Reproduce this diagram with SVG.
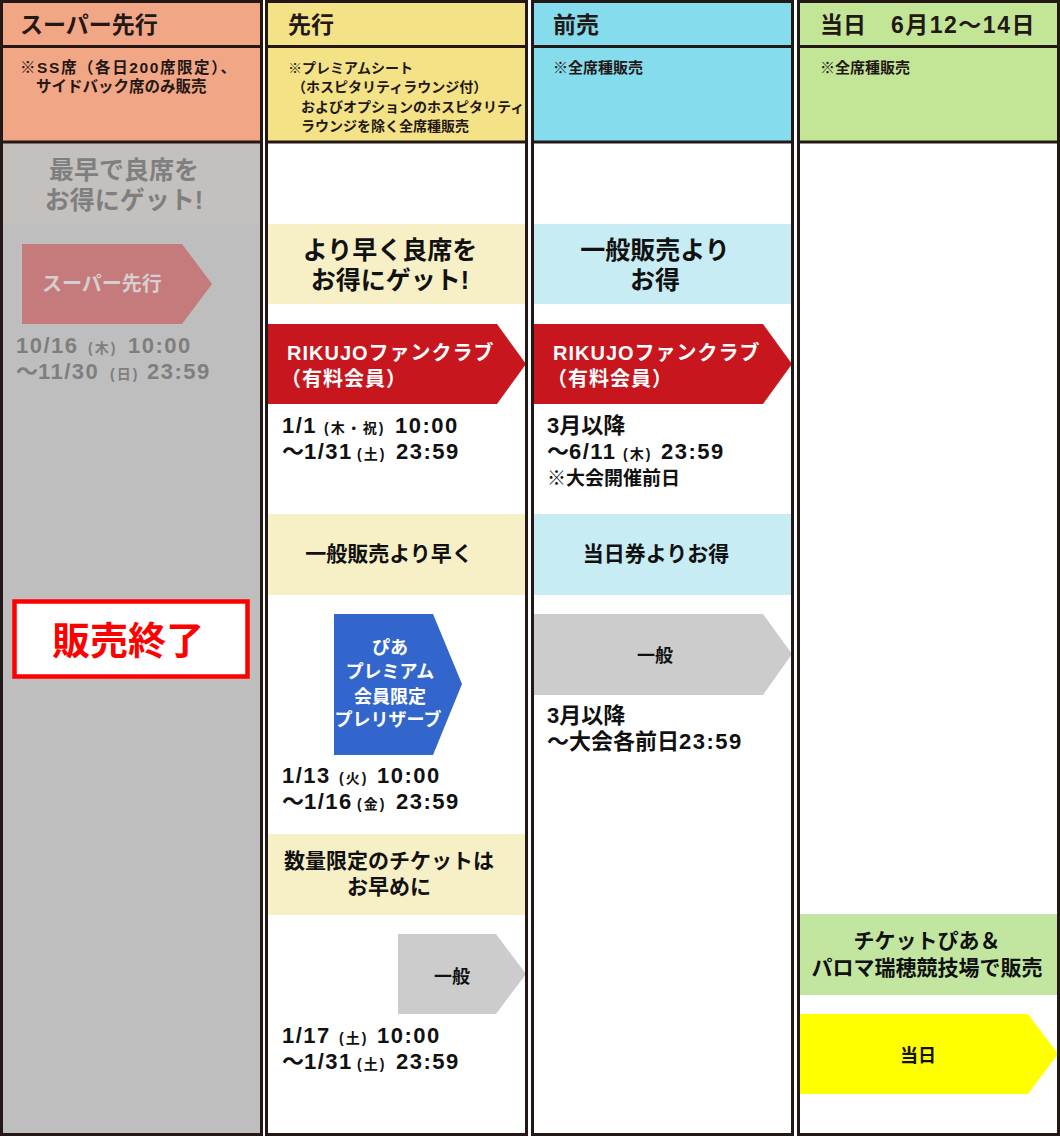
<svg xmlns="http://www.w3.org/2000/svg" width="1060" height="1136" viewBox="0 0 1060 1136">
<style>
text{font-family:"Liberation Sans","Noto Sans CJK JP",sans-serif;font-weight:bold;fill:#111}
.title{font-size:23px;fill:#231815}
.sub{font-size:14px;fill:#231815}
.sub2{font-size:15.5px;fill:#231815}
.band{font-size:25px;text-anchor:middle}
.band2{font-size:21px;text-anchor:middle}
.lbl{font-size:20px;fill:#fff;letter-spacing:1px}
.lblc{font-size:18px;text-anchor:middle}
.date{font-size:22px}
.num{letter-spacing:1.5px}
.sm{font-size:14px;letter-spacing:2px}
.border{fill:none;stroke:#231815;stroke-width:3}
.div{stroke:#231815;stroke-width:3}
.g1 text{fill:#7f7f7f}
</style>
<rect x="0" y="0" width="1060" height="1136" fill="#fff"/>

<!-- Column 1: スーパー先行 -->
<g id="col-super">
  <rect x="1.5" y="1.5" width="260" height="1133" fill="#bebebe"/>
  <rect x="3" y="3" width="257" height="140" fill="#f1a685"/>
  <text class="title" x="20" y="33">スーパー先行</text>
  <text class="sub2" x="20" y="73" textLength="216" lengthAdjust="spacing">※SS席（各日200席限定）、</text>
  <text class="sub2" x="36" y="92">サイドバック席のみ販売</text>
</g>
<g id="col1-band" class="g1">
  <rect x="3" y="143" width="257" height="81" fill="#c4c0be"/>
  <text class="band" x="124" y="179">最早で良席を</text>
  <text class="band" x="124" y="209">お得にゲット!</text>
</g>
<g id="arrow-super" class="g1">
  <polygon points="22,244 182,244 212,284 182,324 22,324" fill="#c57a7c"/>
  <text x="42" y="291" style="font-size:20px;fill:#d6cfcf">スーパー先行</text>
  <text class="date" y="353"><tspan class="num" x="16">10/16</tspan><tspan class="sm" x="88">(木)</tspan><tspan class="num" x="128">10:00</tspan></text>
  <text class="date" y="379"><tspan x="16">～</tspan><tspan class="num" x="38">11/30</tspan><tspan class="sm" x="110">(日)</tspan><tspan class="num" x="147">23:59</tspan></text>
</g>
<g id="sold-out">
  <rect x="14.5" y="601.5" width="233" height="75" fill="#fff" stroke="#ff0000" stroke-width="4.5"/>
  <text x="128" y="654" text-anchor="middle" style="font-size:38px;fill:#ff0000">販売終了</text>
</g>

<!-- Column 2: 先行 -->
<g id="col-senko">
  <rect x="266.5" y="1.5" width="260" height="1133" fill="#fff"/>
  <rect x="268" y="3" width="257" height="140" fill="#f3e286"/>
  <text class="title" x="288" y="33">先行</text>
  <text class="sub" x="288" y="73">※プレミアムシート</text>
  <text class="sub" x="292" y="92">（ホスピタリティラウンジ付）</text>
  <text class="sub" x="301" y="112">およびオプションのホスピタリティ</text>
  <text class="sub" x="301" y="131">ラウンジを除く全席種販売</text>
</g>
<g id="col2-band1">
  <rect x="268" y="224" width="257" height="80" fill="#f7efc6"/>
  <text class="band" x="390" y="259">より早く良席を</text>
  <text class="band" x="390" y="289">お得にゲット!</text>
</g>
<g id="arrow-fc-senko">
  <polygon points="268,324 497,324 526,364 497,404 268,404" fill="#c8161e"/>
  <text class="lbl" x="287" y="360">RIKUJOファンクラブ</text>
  <text class="lbl" x="281" y="386">（有料会員）</text>
  <text class="date" y="433"><tspan class="num" x="282">1/1</tspan><tspan class="sm" x="324">(木・祝)</tspan><tspan class="num" x="395">10:00</tspan></text>
  <text class="date" y="459"><tspan x="282">～</tspan><tspan class="num" x="304">1/31</tspan><tspan class="sm" x="357">(土)</tspan><tspan class="num" x="396">23:59</tspan></text>
</g>
<g id="col2-band2">
  <rect x="268" y="514" width="257" height="81" fill="#f7efc6"/>
  <text class="band2" x="389" y="561">一般販売より早く</text>
</g>
<g id="arrow-pia">
  <polygon points="334,614 433,614 462,684 433,755 334,755" fill="#3366cc"/>
  <text x="390" y="654" text-anchor="middle" style="font-size:18px;fill:#fff">ぴあ</text>
  <text x="390" y="678" text-anchor="middle" style="font-size:18px;fill:#fff">プレミアム</text>
  <text x="390" y="703" text-anchor="middle" style="font-size:18px;fill:#fff">会員限定</text>
  <text x="388" y="726" text-anchor="middle" style="font-size:18px;fill:#fff">プレリザーブ</text>
  <text class="date" y="783"><tspan class="num" x="282">1/13</tspan><tspan class="sm" x="339">(火)</tspan><tspan class="num" x="377">10:00</tspan></text>
  <text class="date" y="809"><tspan x="282">～</tspan><tspan class="num" x="304">1/16</tspan><tspan class="sm" x="357">(金)</tspan><tspan class="num" x="396">23:59</tspan></text>
</g>
<g id="col2-band3">
  <rect x="268" y="834" width="257" height="81" fill="#f7efc6"/>
  <text class="band2" x="389" y="868">数量限定のチケットは</text>
  <text class="band2" x="389" y="894">お早めに</text>
</g>
<g id="arrow-general-senko">
  <polygon points="398,934 496,934 526,974 496,1014 398,1014" fill="#cccccc"/>
  <text class="lblc" x="452" y="983">一般</text>
  <text class="date" y="1043"><tspan class="num" x="282">1/17</tspan><tspan class="sm" x="339">(土)</tspan><tspan class="num" x="377">10:00</tspan></text>
  <text class="date" y="1069"><tspan x="282">～</tspan><tspan class="num" x="304">1/31</tspan><tspan class="sm" x="357">(土)</tspan><tspan class="num" x="396">23:59</tspan></text>
</g>

<!-- Column 3: 前売 -->
<g id="col-maeuri">
  <rect x="532.5" y="1.5" width="260" height="1133" fill="#fff"/>
  <rect x="534" y="3" width="257" height="140" fill="#84dcec"/>
  <text class="title" x="553" y="33">前売</text>
  <text class="sub" x="553" y="73" style="font-size:15px">※全席種販売</text>
</g>
<g id="col3-band1">
  <rect x="534" y="224" width="257" height="80" fill="#c7ecf4"/>
  <text class="band" x="655" y="259">一般販売より</text>
  <text class="band" x="655" y="289">お得</text>
</g>
<g id="arrow-fc-maeuri">
  <polygon points="534,324 763,324 792,364 763,404 534,404" fill="#c8161e"/>
  <text class="lbl" x="553" y="360">RIKUJOファンクラブ</text>
  <text class="lbl" x="547" y="386">（有料会員）</text>
  <text class="date" x="547" y="433">3月以降</text>
  <text class="date" y="459"><tspan x="547">～</tspan><tspan class="num" x="569">6/11</tspan><tspan class="sm" x="623">(木)</tspan><tspan class="num" x="661">23:59</tspan></text>
  <text x="547" y="485" style="font-size:19px">※大会開催前日</text>
</g>
<g id="col3-band2">
  <rect x="534" y="514" width="257" height="81" fill="#c7ecf4"/>
  <text class="band2" x="656" y="561">当日券よりお得</text>
</g>
<g id="arrow-general-maeuri">
  <polygon points="534,614 763,614 792,654 763,695 534,695" fill="#cccccc"/>
  <text class="lblc" x="655" y="662">一般</text>
  <text class="date" x="547" y="723">3月以降</text>
  <text class="date" y="749"><tspan x="547">～大会各前日</tspan><tspan class="num">23:59</tspan></text>
</g>

<!-- Column 4: 当日 -->
<g id="col-tojitsu">
  <rect x="798.5" y="1.5" width="260" height="1133" fill="#fff"/>
  <rect x="800" y="3" width="257" height="140" fill="#c2e696"/>
  <text class="title" x="820" y="33">当日<tspan x="891" class="num">6月12～14日</tspan></text>
  <text class="sub" x="820" y="73" style="font-size:15px">※全席種販売</text>
</g>
<g id="col4-band">
  <rect x="800" y="914" width="257" height="81" fill="#c2e6a0"/>
  <text class="band2" x="927" y="948">チケットぴあ＆</text>
  <text class="band2" x="927" y="975">パロマ瑞穂競技場で販売</text>
</g>
<g id="arrow-tojitsu">
  <polygon points="800,1014 1028,1014 1058,1054 1028,1094 800,1094" fill="#ffff00"/>
  <text class="lblc" x="918" y="1062">当日</text>
</g>

<!-- column borders and header dividers -->
<g id="frames">
  <rect class="border" x="1.5" y="1.5" width="260" height="1133"/>
  <rect class="border" x="266.5" y="1.5" width="260" height="1133"/>
  <rect class="border" x="532.5" y="1.5" width="260" height="1133"/>
  <rect class="border" x="798.5" y="1.5" width="260" height="1133"/>
  <line class="div" x1="0" y1="46.5" x2="263" y2="46.5"/>
  <line class="div" x1="265" y1="46.5" x2="528" y2="46.5"/>
  <line class="div" x1="531" y1="46.5" x2="794" y2="46.5"/>
  <line class="div" x1="797" y1="46.5" x2="1060" y2="46.5"/>
  <line class="div" x1="0" y1="142" x2="263" y2="142"/>
  <line class="div" x1="265" y1="142" x2="528" y2="142"/>
  <line class="div" x1="531" y1="142" x2="794" y2="142"/>
  <line class="div" x1="797" y1="142" x2="1060" y2="142"/>
</g>
<g id="connectors"/>
</svg>
